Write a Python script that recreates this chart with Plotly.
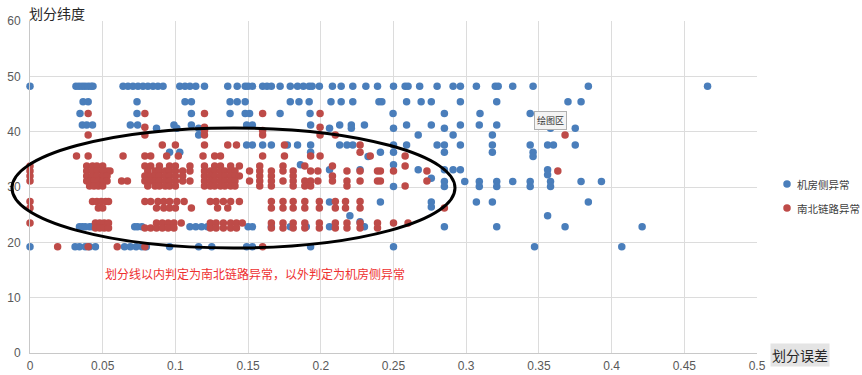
import plotly.graph_objects as go

# ---------------- data ----------------
series_names = ["机房侧异常", "南北链路异常"]
series_colors = ["#4a7ebb", "#be4b48"]

# 机房侧异常 : y levels and the x values found on each level
blue_levels = [48.2, 45.4, 43.3, 41.2, 40.6, 39.4, 37.6, 36.3, 35.5, 34.0,
               33.1, 32.2, 31.6, 31.0, 30.1, 27.3, 26.4, 24.8, 23.7, 22.8, 19.2]
blue_rows = [
    [0, 0.0316, 0.0337, 0.0358, 0.0378, 0.040, 0.042, 0.0433, 0.064, 0.0674, 0.0708,
     0.0743, 0.0777, 0.0811, 0.0846, 0.088, 0.0915, 0.103, 0.1066, 0.110, 0.114, 0.120,
     0.136, 0.1425, 0.148, 0.150, 0.153, 0.160, 0.163, 0.166, 0.172, 0.179, 0.184,
     0.188, 0.192, 0.194, 0.199, 0.208, 0.214, 0.222, 0.231, 0.239, 0.250, 0.258,
     0.260, 0.268, 0.280, 0.291, 0.296, 0.307, 0.320, 0.322, 0.332, 0.346, 0.384, 0.466],
    [0.0365, 0.040, 0.0736, 0.1066, 0.111, 0.1376, 0.1425, 0.148, 0.179, 0.185, 0.192,
     0.207, 0.214, 0.222, 0.240, 0.242, 0.259, 0.269, 0.276, 0.296, 0.321, 0.370, 0.379],
    [0.0344, 0.0736, 0.111, 0.1376, 0.148, 0.151, 0.172, 0.1926, 0.2497, 0.285, 0.3095, 0.344],
    [0.036, 0.039, 0.043, 0.069, 0.074, 0.099, 0.111, 0.149, 0.153, 0.193, 0.213, 0.221,
     0.230, 0.259, 0.276, 0.296, 0.309, 0.321],
    [0.087, 0.101, 0.116, 0.206, 0.221, 0.250, 0.285, 0.358, 0.375],
    [0.116, 0.267, 0.291, 0.318],
    [0.149, 0.153, 0.160, 0.166, 0.177, 0.184, 0.193, 0.213, 0.218, 0.222, 0.250, 0.259,
     0.280, 0.285, 0.296, 0.318, 0.344, 0.356, 0.360, 0.375],
    [0.096, 0.103, 0.193, 0.241, 0.250, 0.285, 0.318, 0.346],
    [0.2325, 0.346],
    [0.186, 0.250],
    [0.206, 0.227, 0.267, 0.285, 0.291, 0.296, 0.356],
    [0.356],
    [0.276],
    [0.285, 0.299, 0.309, 0.321, 0.332, 0.344, 0.358, 0.379, 0.393],
    [0.250, 0.285, 0.309, 0.321, 0.344, 0.358],
    [0.206, 0.241, 0.276, 0.307, 0.318, 0.384],
    [0.276],
    [0.220, 0.356],
    [0.227],
    [0.034, 0.036, 0.038, 0.041, 0.043, 0.046, 0.072, 0.074, 0.077, 0.110, 0.114, 0.118,
     0.122, 0.150, 0.153, 0.166, 0.179, 0.190, 0.206, 0.230, 0.285, 0.321, 0.368, 0.421],
    [0, 0.031, 0.034, 0.038, 0.041, 0.045, 0.065, 0.069, 0.073, 0.077, 0.080, 0.096,
     0.116, 0.125, 0.149, 0.153, 0.193, 0.250, 0.347, 0.407],
]

# 南北链路异常 : y levels and the x values found on each level
red_levels = [43.3, 40.8, 40.2, 39.4, 37.6, 36.3, 35.6, 33.8, 32.9, 32.0, 31.1, 30.2,
              27.4, 26.2, 23.5, 22.6, 19.2]
red_rows = [
    [0.040, 0.079, 0.120, 0.160, 0.1995],
    [0.079, 0.120, 0.1995],
    [0.120, 0.160],
    [0.040, 0.079, 0.120, 0.160, 0.1995, 0.210, 0.368],
    [0.091, 0.100, 0.120, 0.136, 0.142, 0.175, 0.227],
    [0.227],
    [0.032, 0.040, 0.064, 0.079, 0.083, 0.094, 0.102, 0.119, 0.127, 0.131, 0.160, 0.175,
     0.193, 0.1995, 0.234, 0.258],
    [0, 0.039, 0.043, 0.046, 0.050, 0.079, 0.083, 0.089, 0.096, 0.100, 0.110, 0.120,
     0.127, 0.131, 0.138, 0.144, 0.158, 0.174, 0.189, 0.208, 0.258],
    [0, 0.039, 0.043, 0.046, 0.050, 0.053, 0.055, 0.081, 0.086, 0.089, 0.093, 0.096,
     0.100, 0.105, 0.110, 0.120, 0.124, 0.127, 0.131, 0.134, 0.138, 0.141, 0.151, 0.158,
     0.166, 0.174, 0.181, 0.193, 0.198, 0.218, 0.227, 0.239, 0.241, 0.250, 0.273, 0.363],
    [0, 0.039, 0.043, 0.046, 0.050, 0.053, 0.079, 0.083, 0.086, 0.089, 0.093, 0.096,
     0.100, 0.105, 0.120, 0.124, 0.127, 0.131, 0.134, 0.138, 0.141, 0.144, 0.158, 0.166,
     0.181, 0.208],
    [0, 0.039, 0.041, 0.044, 0.047, 0.050, 0.053, 0.063, 0.067, 0.079, 0.083, 0.086,
     0.089, 0.093, 0.096, 0.100, 0.105, 0.110, 0.120, 0.124, 0.127, 0.131, 0.134, 0.138,
     0.141, 0.151, 0.158, 0.166, 0.174, 0.181, 0.189, 0.193, 0.198, 0.208, 0.218, 0.227,
     0.239, 0.241, 0.273],
    [0.041, 0.044, 0.047, 0.050, 0.081, 0.086, 0.089, 0.093, 0.096, 0.100, 0.120, 0.124,
     0.127, 0.131, 0.134, 0.138, 0.141, 0.158, 0.166, 0.181, 0.189, 0.193, 0.218, 0.258],
    [0, 0.043, 0.046, 0.049, 0.052, 0.054, 0.079, 0.083, 0.088, 0.092, 0.096, 0.101,
     0.106, 0.124, 0.128, 0.133, 0.138, 0.144, 0.166, 0.174, 0.181, 0.189, 0.199, 0.210,
     0.217, 0.227],
    [0, 0.047, 0.050, 0.087, 0.092, 0.096, 0.100, 0.111, 0.129, 0.136, 0.166, 0.174,
     0.181, 0.189, 0.199, 0.210, 0.217, 0.227, 0.285],
    [0, 0.045, 0.048, 0.051, 0.054, 0.087, 0.091, 0.095, 0.099, 0.104, 0.124, 0.128,
     0.133, 0.138, 0.142, 0.146, 0.166, 0.174, 0.181, 0.189, 0.199, 0.210, 0.218, 0.227,
     0.239, 0.250, 0.260],
    [0.045, 0.048, 0.051, 0.054, 0.079, 0.083, 0.087, 0.091, 0.095, 0.099, 0.124, 0.128,
     0.133, 0.138, 0.142, 0.166, 0.174, 0.181, 0.189, 0.199, 0.210, 0.218, 0.227, 0.239],
    [0.019, 0.040, 0.060, 0.079, 0.160],
]

x_range = [0, 0.5]
y_range = [0, 60]
x_ticks = [0, 0.05, 0.1, 0.15, 0.2, 0.25, 0.3, 0.35, 0.4, 0.45, 0.5]
y_ticks = [0, 10, 20, 30, 40, 50, 60]

x_title = "划分误差"
y_title = "划分纬度"
note_text = "划分线以内判定为南北链路异常，以外判定为机房侧异常"
tooltip_text = "绘图区"

# dividing ellipse, in data units
ellipse_x = [-0.0124, 0.2923]
ellipse_y = [18.98, 40.67]


def flatten(levels, rows):
    xs, ys = [], []
    for lvl, row in zip(levels, rows):
        xs.extend(row)
        ys.extend([lvl] * len(row))
    return xs, ys


FONT = "Liberation Sans, Noto Sans CJK SC, sans-serif"
CJK = "Noto Sans CJK SC, sans-serif"

W, H = 862, 375
ML, MR, MT, MB = 30, 105, 21, 22
PW, PH = W - ML - MR, H - MT - MB

fig = go.Figure()
for name, color, (lv, rw) in zip(series_names, series_colors,
                                  [(blue_levels, blue_rows), (red_levels, red_rows)]):
    xs, ys = flatten(lv, rw)
    fig.add_trace(go.Scatter(
        x=xs, y=ys, mode="markers", name=name, showlegend=False,
        marker=dict(color=color, size=7.5, line=dict(width=0)),
        cliponaxis=False,
    ))


def to_dom(v, r):
    return (v - r[0]) / (r[1] - r[0])


fig.add_shape(
    type="circle", xref="x domain", yref="y domain",
    x0=to_dom(ellipse_x[0], x_range), x1=to_dom(ellipse_x[1], x_range),
    y0=to_dom(ellipse_y[0], y_range), y1=to_dom(ellipse_y[1], y_range),
    line=dict(color="black", width=3), layer="above",
)

# legend (drawn as key dots + labels, to match the tight spacing of the original)
legend_px_x = 787
legend_px_y = [184, 208]
for name, color, py in zip(series_names, series_colors, legend_px_y):
    px_ = (legend_px_x - ML) / PW
    py_ = (H - MB - py) / PH
    fig.add_shape(
        type="circle", xref="paper", yref="paper",
        xsizemode="pixel", ysizemode="pixel",
        xanchor=px_, yanchor=py_, x0=-3.75, x1=3.75, y0=-3.75, y1=3.75,
        fillcolor=color, line=dict(width=0),
    )
    fig.add_annotation(
        text=name, xref="paper", yref="paper",
        x=(legend_px_x + 8 - ML) / PW, y=py_,
        xanchor="left", yanchor="middle", showarrow=False,
        font=dict(family=CJK, size=10.5, color="#404040"),
    )

fig.update_layout(
    width=W, height=H,
    margin=dict(l=ML, r=MR, t=MT, b=MB),
    paper_bgcolor="white", plot_bgcolor="white",
    font=dict(family=FONT, size=12, color="#595959"),
    showlegend=False,
    xaxis=dict(
        range=x_range, tickvals=x_ticks, ticktext=[f"{v:g}" for v in x_ticks],
        showgrid=True, gridcolor="#dcdcdc", gridwidth=1,
        showline=True, linecolor="#c8c8c8", linewidth=1,
        zeroline=False, ticks="", ticklabelstandoff=2, automargin=False,
        tickfont=dict(size=12, color="#595959"),
    ),
    yaxis=dict(
        range=y_range, tickvals=y_ticks,
        showgrid=True, gridcolor="#dcdcdc", gridwidth=1,
        showline=True, linecolor="#c8c8c8", linewidth=1,
        zeroline=False, ticks="", ticklabelstandoff=6, automargin=False,
        tickfont=dict(size=12, color="#595959"),
    ),
)

fig.add_annotation(
    text=y_title, xref="paper", yref="paper", x=-0.004, y=1.0, yshift=8,
    xanchor="left", yanchor="middle", showarrow=False,
    font=dict(family=CJK, size=14, color="#262626"),
)
fig.add_annotation(
    text=x_title, xref="paper", yref="paper", x=(770 - ML) / PW, y=-0.006,
    xanchor="left", yanchor="middle", showarrow=False,
    bgcolor="#e4e4e4", borderpad=1,
    font=dict(family=CJK, size=14, color="#262626"),
)
fig.add_annotation(
    text=note_text, xref="x domain", yref="y domain",
    x=(103 - ML) / PW, y=0.238, xanchor="left", yanchor="middle", showarrow=False,
    font=dict(family=CJK, size=12, color="#ee3030"),
)
fig.add_annotation(
    text=tooltip_text, xref="x domain", yref="y domain",
    x=0.7166, y=0.70, xanchor="center", yanchor="middle", showarrow=False,
    bgcolor="#f4f4f4", bordercolor="#b0b0b0", borderwidth=1, borderpad=2,
    font=dict(family=CJK, size=9, color="#333333"),
)

fig.write_html(
    "out.html",
    config={"displayModeBar": False},
    post_script="document.body.style.margin='0';document.body.style.overflow='hidden';",
)
